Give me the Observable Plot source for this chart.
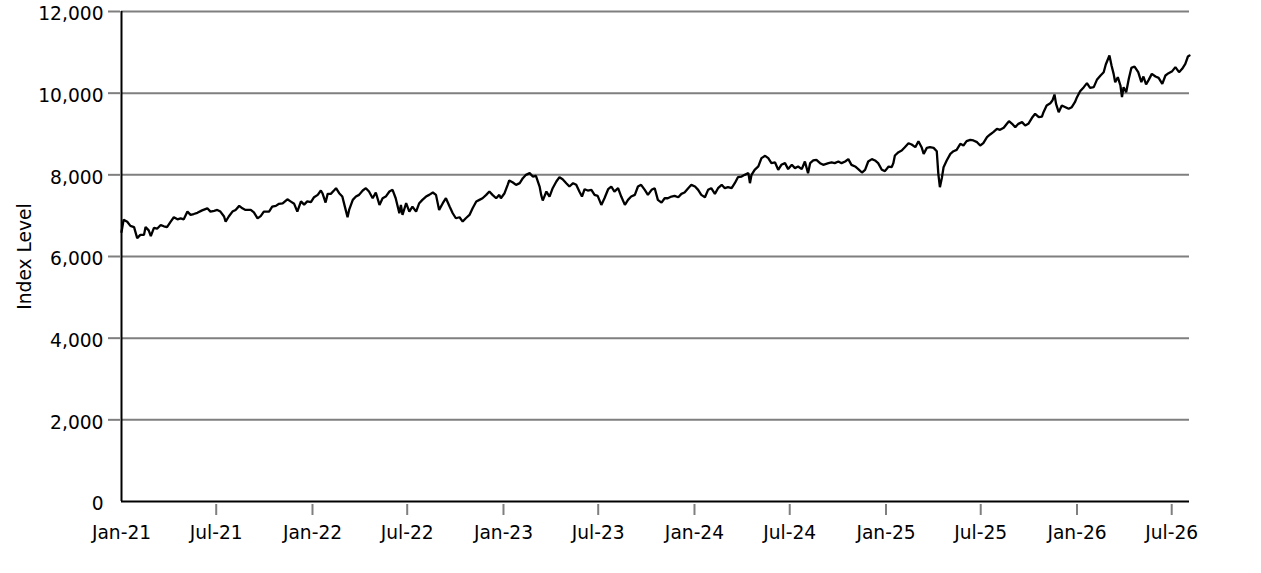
<!DOCTYPE html>
<html><head><meta charset="utf-8">
<script src="https://cdn.jsdelivr.net/npm/d3@7"></script>
<script src="https://cdn.jsdelivr.net/npm/@observablehq/plot@0.6"></script>
<style>body{margin:0;background:#fff;} #chart{width:1261px;height:573px;}</style>
</head><body><div id="chart"></div>
<script>
// Daily index level (approximate)
const dates = [
"2021-01-01","2021-01-05","2021-01-12","2021-01-18","2021-01-25","2021-01-31","2021-02-06","2021-02-13","2021-02-16","2021-02-22","2021-02-26",
"2021-03-04","2021-03-10","2021-03-17","2021-03-23","2021-03-29","2021-04-05","2021-04-11","2021-04-18","2021-04-24","2021-04-30",
"2021-05-07","2021-05-13","2021-05-19","2021-05-26","2021-06-04","2021-06-14","2021-06-20","2021-06-27","2021-07-03","2021-07-09",
"2021-07-16","2021-07-19","2021-07-25","2021-08-01","2021-08-07","2021-08-14","2021-08-20","2021-08-26","2021-09-05","2021-09-11",
"2021-09-18","2021-09-24","2021-09-30","2021-10-10","2021-10-16","2021-10-23","2021-10-29","2021-11-05","2021-11-14","2021-11-20",
"2021-11-27","2021-12-03","2021-12-10","2021-12-16","2021-12-22","2021-12-29",
"2022-01-04","2022-01-11","2022-01-17","2022-01-20","2022-01-26","2022-01-30","2022-02-05","2022-02-11","2022-02-15","2022-02-21",
"2022-02-27","2022-03-03","2022-03-09","2022-03-12","2022-03-19","2022-03-25","2022-03-31","2022-04-07","2022-04-13","2022-04-19",
"2022-04-26","2022-05-02","2022-05-09","2022-05-15","2022-05-21","2022-05-28","2022-06-03","2022-06-09","2022-06-16","2022-06-19",
"2022-06-22","2022-06-29","2022-07-05","2022-07-11","2022-07-18","2022-07-24","2022-07-30","2022-08-06","2022-08-12","2022-08-19",
"2022-08-25","2022-08-31","2022-09-07","2022-09-13","2022-09-20","2022-09-26","2022-10-02","2022-10-09","2022-10-15","2022-10-21",
"2022-10-28","2022-11-03","2022-11-10","2022-11-16","2022-11-22","2022-11-29","2022-12-05","2022-12-11","2022-12-18","2022-12-24","2022-12-27",
"2023-01-03","2023-01-09","2023-01-12","2023-01-19","2023-01-25","2023-02-01","2023-02-07","2023-02-13","2023-02-20","2023-02-26",
"2023-03-04","2023-03-11","2023-03-14","2023-03-17","2023-03-24","2023-03-30","2023-04-05","2023-04-12","2023-04-18","2023-04-24",
"2023-05-01","2023-05-07","2023-05-14","2023-05-20","2023-05-26","2023-05-31","2023-06-05","2023-06-11","2023-06-18","2023-06-24",
"2023-06-30","2023-07-07","2023-07-13","2023-07-20","2023-07-26","2023-08-01","2023-08-08","2023-08-14","2023-08-21","2023-08-27",
"2023-09-02","2023-09-09","2023-09-15","2023-09-21","2023-09-28","2023-10-04","2023-10-11","2023-10-17","2023-10-23","2023-10-30",
"2023-11-05","2023-11-11","2023-11-18","2023-11-24","2023-12-01","2023-12-07","2023-12-13","2023-12-20","2023-12-26",
"2024-01-02","2024-01-08","2024-01-14","2024-01-21","2024-01-27","2024-02-02","2024-02-09","2024-02-15","2024-02-22","2024-02-28",
"2024-03-05","2024-03-12","2024-03-18","2024-03-24","2024-03-31","2024-04-06","2024-04-13","2024-04-16","2024-04-19","2024-04-25",
"2024-05-02","2024-05-08","2024-05-15","2024-05-21","2024-05-27","2024-06-03","2024-06-09","2024-06-15","2024-06-22","2024-06-28",
"2024-07-05","2024-07-11","2024-07-17","2024-07-24","2024-07-30","2024-08-05","2024-08-09","2024-08-15","2024-08-21","2024-08-28",
"2024-09-03","2024-09-13","2024-09-19","2024-09-25","2024-10-02","2024-10-08","2024-10-15","2024-10-21","2024-10-27","2024-11-03",
"2024-11-09","2024-11-16","2024-11-22","2024-11-28","2024-12-05","2024-12-11","2024-12-17","2024-12-24","2024-12-30",
"2025-01-06","2025-01-12","2025-01-15","2025-01-18","2025-01-25","2025-01-31","2025-02-06","2025-02-13","2025-02-19","2025-02-26",
"2025-03-04","2025-03-10","2025-03-14","2025-03-20","2025-03-26","2025-04-02","2025-04-08","2025-04-11","2025-04-14","2025-04-18",
"2025-04-21","2025-04-27","2025-05-04","2025-05-10","2025-05-16","2025-05-23","2025-05-29","2025-06-04","2025-06-11","2025-06-17",
"2025-06-24","2025-06-30","2025-07-06","2025-07-13","2025-07-19","2025-07-25","2025-08-01","2025-08-07","2025-08-14","2025-08-20",
"2025-08-24","2025-08-30","2025-09-05","2025-09-11","2025-09-18","2025-09-24","2025-09-30","2025-10-07","2025-10-13","2025-10-20",
"2025-10-26","2025-10-29","2025-11-04","2025-11-11","2025-11-15","2025-11-19","2025-11-22","2025-11-27","2025-12-03","2025-12-10",
"2025-12-16","2025-12-22","2025-12-28",
"2026-01-01","2026-01-07","2026-01-14","2026-01-20","2026-01-26","2026-02-02","2026-02-08","2026-02-15","2026-02-21","2026-02-25",
"2026-03-04","2026-03-08","2026-03-12","2026-03-15","2026-03-20","2026-03-25","2026-03-28","2026-03-31","2026-04-05","2026-04-10",
"2026-04-15","2026-04-21","2026-04-28","2026-05-04","2026-05-08","2026-05-13","2026-05-18","2026-05-24","2026-05-31","2026-06-06",
"2026-06-13","2026-06-19","2026-06-25","2026-07-02","2026-07-08","2026-07-15","2026-07-21","2026-07-27","2026-08-01","2026-08-04"
];
const values = [
6600,6900,6850,6750,6720,6450,6530,6530,6720,6640,6500,
6700,6680,6770,6740,6720,6855,6960,6910,6935,6910,
7100,7020,7040,7070,7130,7180,7100,7120,7140,7100,
6980,6855,6980,7100,7140,7240,7180,7140,7140,7080,
6935,6990,7100,7100,7220,7240,7290,7300,7400,7350,
7290,7100,7350,7270,7350,7330,
7452,7509,7616,7550,7321,7534,7534,7616,7673,7550,
7468,7264,6961,7141,7387,7468,7509,7616,7673,7591,
7427,7567,7264,7427,7468,7591,7632,7427,7059,7264,
7018,7305,7100,7223,7100,7305,7387,7468,7509,7567,
7509,7141,7305,7427,7223,7059,6937,6961,6855,6937,
7018,7182,7346,7387,7427,7509,7591,7509,7427,7509,7427,
7550,7755,7861,7812,7755,7796,7918,8000,8041,7959,
7975,7714,7509,7370,7591,7468,7673,7836,7943,7894,
7796,7714,7796,7755,7591,7468,7648,7616,7632,7509,
7485,7264,7427,7648,7714,7591,7673,7468,7264,7387,
7468,7509,7714,7755,7632,7509,7632,7673,7387,7321,
7427,7427,7468,7485,7452,7534,7567,7673,7755,
7714,7632,7509,7452,7632,7673,7534,7673,7755,7673,
7698,7673,7796,7943,7959,8000,8041,7796,8000,8123,
8205,8409,8466,8409,8286,8303,8123,8245,8286,8140,
8245,8164,8205,8140,8327,8041,8286,8352,8368,8286,
8245,8286,8303,8286,8327,8286,8327,8384,8245,8205,
8140,8057,8123,8327,8384,8352,8286,8123,8090,
8204,8187,8285,8473,8555,8596,8677,8775,8742,8677,
8824,8677,8514,8661,8677,8661,8579,8024,7698,7943,
8187,8351,8514,8579,8612,8759,8718,8824,8857,8841,
8800,8718,8775,8922,8988,9045,9126,9102,9151,9249,
9314,9249,9167,9249,9290,9208,9249,9396,9494,9412,
9428,9535,9698,9755,9820,9967,9738,9535,9698,9657,
9616,9657,9779,
9902,10049,10147,10245,10130,10147,10326,10433,10514,10702,
10922,10677,10473,10269,10392,10188,9902,10147,10024,10351,
10620,10653,10514,10269,10408,10212,10326,10473,10408,10375,
10228,10433,10490,10539,10637,10514,10596,10718,10898,10922
];
const xTickDates = ["2021-01-01","2021-07-01","2022-01-01","2022-07-01","2023-01-01","2023-07-01","2024-01-01","2024-07-01","2025-01-01","2025-07-01","2026-01-01","2026-07-01"];
const xTickLabels = ["Jan-21","Jul-21","Jan-22","Jul-22","Jan-23","Jul-23","Jan-24","Jul-24","Jan-25","Jul-25","Jan-26","Jul-26"];
const yTicks = [0, 2000, 4000, 6000, 8000, 10000, 12000];
const yLabel = "Index Level";

const data = dates.map((d, i) => ({date: new Date(d), value: values[i]}));
const xt = xTickDates.map(d => new Date(d));
const labelOf = new Map(xt.map((d, i) => [+d, xTickLabels[i]]));
const x0 = xt[0];
const x1 = data[data.length - 1].date;
const FS = 18.67;

const chart = Plot.plot({
  width: 1261, height: 573,
  marginLeft: 121, marginRight: 72, marginTop: 11, marginBottom: 72,
  style: {fontFamily: "'DejaVu Sans', sans-serif", fontSize: FS + "px", background: "#fff", color: "#000", overflow: "visible"},
  x: {type: "utc", domain: [x0, x1]},
  y: {domain: [0, 12000]},
  marks: [
    Plot.ruleY(yTicks.filter(v => v > 0), {stroke: "#7f7f7f", strokeWidth: 2}),
    Plot.axisY({ticks: yTicks.filter(v => v > 0), tickSize: 12, tickFormat: () => "", stroke: "#7f7f7f", strokeWidth: 2, strokeOpacity: 1, label: null, dx: -1}),
    Plot.axisY({ticks: yTicks, tickSize: 0, tickPadding: 18, tickFormat: d3.format(","), label: null, fill: "#000", fontSize: FS, dy: 3}),
    Plot.axisX({ticks: xt.slice(1), tickSize: 11, tickFormat: () => "", stroke: "#7f7f7f", strokeWidth: 2, strokeOpacity: 1, label: null, dy: 3}),
    Plot.axisX({ticks: xt, tickSize: 0, tickPadding: 24, tickFormat: d => labelOf.get(+d), label: null, fill: "#000", fontSize: FS}),
    Plot.line(data, {x: "date", y: "value", stroke: "#000", strokeWidth: 2.3, strokeLinejoin: "miter"}),
    Plot.ruleX([x0], {stroke: "#000", strokeWidth: 2}),
    Plot.ruleY([0], {stroke: "#000", strokeWidth: 2}),
    Plot.text([yLabel], {frameAnchor: "left", textAnchor: "middle", dx: -96, rotate: -90, fontSize: FS, fill: "#000"})
  ]
});
document.getElementById("chart").appendChild(chart);
</script>
</body></html>
